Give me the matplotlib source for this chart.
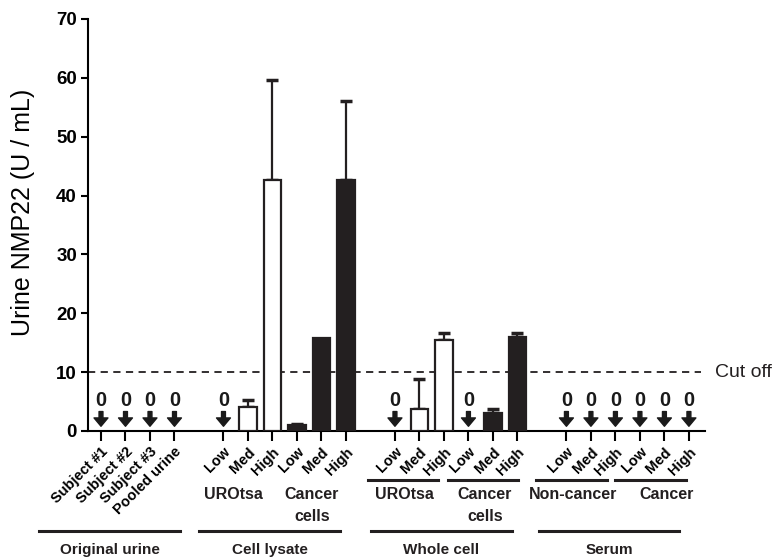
import matplotlib
matplotlib.use('Agg')
import matplotlib.pyplot as plt
import numpy as np

plt.rcParams.update({
    'font.family': ['Liberation Sans', 'DejaVu Sans'],
    'axes.linewidth': 1.5,
})

# category tick labels (left to right)
tick_labels = ['Subject #1', 'Subject #2', 'Subject #3', 'Pooled urine',
               'Low', 'Med', 'High', 'Low', 'Med', 'High',
               'Low', 'Med', 'High', 'Low', 'Med', 'High',
               'Low', 'Med', 'High', 'Low', 'Med', 'High']
# x slot of each category (gaps between groups)
x_pos = [0, 1, 2, 3, 5, 6, 7, 8, 9, 10, 12, 13, 14, 15, 16, 17, 19, 20, 21, 22, 23, 24]
# mean NMP22 (U/mL); 0 = not detected
values = [0, 0, 0, 0,
          0, 4.1, 42.6, 1.0, 15.8, 42.6,
          0, 3.7, 15.4, 0, 3.1, 16.0,
          0, 0, 0, 0, 0, 0]
# upper error (SD)
errors = [0, 0, 0, 0,
          0, 1.2, 17.0, 0.2, 0.0, 13.4,
          0, 5.1, 1.2, 0, 0.7, 0.6,
          0, 0, 0, 0, 0, 0]
# cell type: 'n' non-cancer (open bar), 'c' cancer (filled bar)
cell_type = ['n', 'n', 'n', 'n',
             'n', 'n', 'n', 'c', 'c', 'c',
             'n', 'n', 'n', 'c', 'c', 'c',
             'n', 'n', 'n', 'c', 'c', 'c']
cutoff = 10

sub_labels = ['UROtsa', 'Cancer\ncells', 'UROtsa', 'Cancer\ncells', 'Non-cancer', 'Cancer']
group_labels = ['Original urine', 'Cell lysate', 'Whole cell', 'Serum']

fig = plt.figure(figsize=(7.72, 5.6), dpi=100)
ax = fig.add_axes([0.114, 0.2304, 0.799, 0.7357])

for x, v, e, t in zip(x_pos, values, errors, cell_type):
    if v == 0:
        ax.annotate('', xy=(x, 0.8), xytext=(x, 3.3),
                    arrowprops=dict(facecolor='#1a1a1a', edgecolor='#1a1a1a',
                                    width=2.8, headwidth=10, headlength=6, shrink=0))
        ax.text(x, 3.6, '0', ha='center', va='bottom', fontsize=14.5,
                fontweight='bold', color='#1a1a1a')
        continue
    fc = 'white' if t == 'n' else '#231f20'
    ax.bar(x, v, width=0.72, color=fc, edgecolor='#231f20', linewidth=1.6, zorder=3)
    if e > 0:
        ax.errorbar(x, v, yerr=[[0], [e]], fmt='none', ecolor='#231f20',
                    elinewidth=1.6, capsize=4, capthick=2.5, zorder=2)

ax.axhline(cutoff, xmin=0, xmax=0.993, color='#231f20', linestyle=(0, (4, 3)),
           linewidth=1.3, zorder=1)
ax.text(25.05, cutoff, 'Cut off', va='center', ha='left', fontsize=14,
        color='#231f20', clip_on=False)

ax.set_xlim(-0.53, 24.65)
ax.set_ylim(0, 70)
ax.set_yticks(np.arange(0, 71, 10))
ax.tick_params(axis='y', labelsize=13.5, length=5, width=1.5, pad=3)
for lab in ax.get_yticklabels():
    lab.set_fontweight('bold')
ax.set_xticks(x_pos)
ax.set_xticklabels(tick_labels, rotation=45, ha='right', rotation_mode='anchor',
                   fontsize=10.5, fontweight='bold')
ax.tick_params(axis='x', length=7, width=1.5, pad=3)
ax.spines['top'].set_visible(False)
ax.spines['right'].set_visible(False)
ax.set_ylabel('Urine NMP22 (U / mL)', fontsize=18)
ax.yaxis.set_label_coords(-0.086, 0.53)

tr = ax.get_xaxis_transform()
# subgroup labels and underlines
sub_x = [5.39, 8.61, 12.37, 15.67, 19.27, 23.1]
for lx, lab in zip(sub_x, sub_labels):
    ax.text(lx, -0.135, lab, transform=tr, ha='center', va='top', fontsize=11.5,
            fontweight='bold', linespacing=1.6, color='#231f20')
for x0, x1 in [(10.9, 13.76), (14.16, 17.02), (17.76, 20.65), (20.98, 23.88)]:
    ax.plot([x0, x1], [-0.119, -0.119], transform=tr, color='#231f20',
            linewidth=2.2, clip_on=False)
# main group labels and underlines
grp_span = [(-2.53, 3.22), (4.0, 9.76), (11.02, 16.78), (17.88, 23.59)]
for (x0, x1), lab in zip(grp_span, group_labels):
    ax.plot([x0, x1], [-0.243, -0.243], transform=tr, color='#231f20',
            linewidth=2.2, clip_on=False)
    ax.text((x0 + x1) / 2, -0.272, lab, transform=tr, ha='center', va='top',
            fontsize=11, fontweight='bold', color='#231f20')

fig.savefig('out.png', dpi=100)
